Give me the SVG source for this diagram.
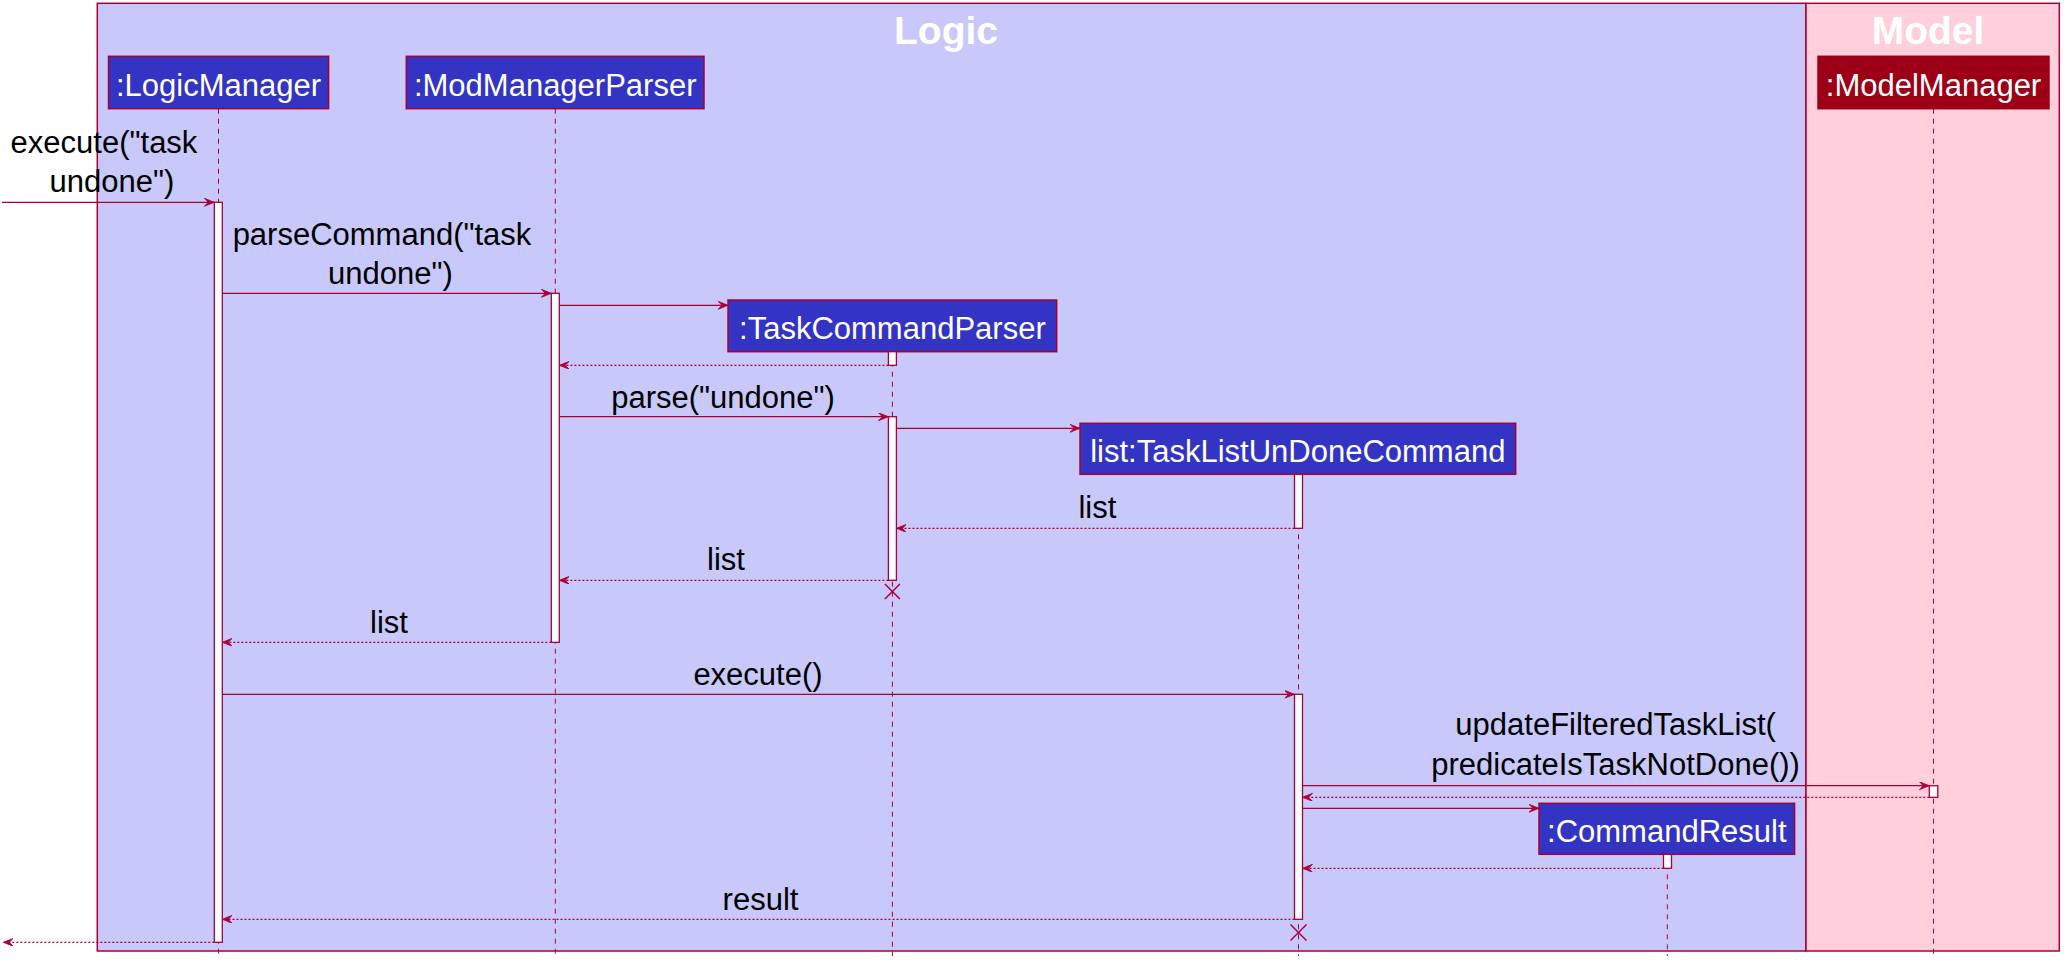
<svg xmlns="http://www.w3.org/2000/svg" width="2067" height="965" viewBox="0 0 2067 965">
<style>
.frame{stroke:#A80036;stroke-width:1.5}
.title{font-family:"Liberation Sans",Arial,sans-serif;font-size:39px;font-weight:bold;fill:#FFFFFF;text-anchor:middle}
.pbox{fill:#3333C4;stroke:#A80036;stroke-width:1.5}
.mbox{fill:#9D0016;stroke:#9D0016;stroke-width:1.5}
.ptext{font-family:"Liberation Sans",Arial,sans-serif;font-size:31px;fill:#FFFFFF;text-anchor:middle}
.life{stroke:#A80036;stroke-width:1;stroke-dasharray:5,5;fill:none}
.act{fill:#FFFFFF;stroke:#A80036;stroke-width:1.3}
.msg{stroke:#A80036;stroke-width:1.2;fill:none;marker-end:url(#ah)}
.ret{stroke:#A80036;stroke-width:1.2;fill:none;stroke-dasharray:2,2;marker-end:url(#ah)}
.mtext{font-family:"Liberation Sans",Arial,sans-serif;font-size:31px;fill:#000000;text-anchor:middle}
.x{stroke:#A80036;stroke-width:1.5}
</style>
<defs>
<marker id="ah" markerUnits="userSpaceOnUse" markerWidth="11" markerHeight="9" refX="10" refY="4" orient="auto">
<polygon points="0,0 10,4 0,8 4,4" fill="#A80036" stroke="#A80036" stroke-width="0.8"/>
</marker>
</defs>

<g id="box-logic">
<rect class="frame" x="97.3" y="3.3" width="1708.7" height="947.7" fill="#C8C8FA"/>
<text class="title" x="946" y="44.3">Logic</text>
</g>
<g id="box-model">
<rect class="frame" x="1806" y="3.3" width="253.3" height="947.7" fill="#FFD0DC"/>
<text class="title" x="1928" y="44.3">Model</text>
</g>

<g id="lifelines">
<line class="life" x1="218.5" y1="108.7" x2="218.5" y2="956"/>
<line class="life" x1="555.3" y1="108.7" x2="555.3" y2="956"/>
<line class="life" x1="892.4" y1="351.7" x2="892.4" y2="956"/>
<line class="life" x1="1298.5" y1="474.3" x2="1298.5" y2="956"/>
<line class="life" x1="1667.3" y1="854.3" x2="1667.3" y2="956"/>
<line class="life" x1="1933.5" y1="108.7" x2="1933.5" y2="956"/>
</g>

<g id="LogicManager">
<rect class="pbox" x="108.5" y="56.3" width="220.1" height="52.4"/>
<text class="ptext" x="218.5" y="95.7">:LogicManager</text>
</g>
<g id="ModManagerParser">
<rect class="pbox" x="406.3" y="56.3" width="297.7" height="52.4"/>
<text class="ptext" x="555.2" y="95.7">:ModManagerParser</text>
</g>
<g id="TaskCommandParser">
<rect class="pbox" x="728" y="300" width="328.7" height="51.7"/>
<text class="ptext" x="892.4" y="339.3">:TaskCommandParser</text>
</g>
<g id="TaskListUnDoneCommand">
<rect class="pbox" x="1080" y="423.3" width="435.7" height="51"/>
<text class="ptext" x="1297.8" y="461.7">list:TaskListUnDoneCommand</text>
</g>
<g id="CommandResult">
<rect class="pbox" x="1539" y="803.3" width="255.6" height="51"/>
<text class="ptext" x="1666.8" y="841.7">:CommandResult</text>
</g>
<g id="ModelManager">
<rect class="mbox" x="1818" y="56.3" width="231" height="52.4"/>
<text class="ptext" x="1933.5" y="95.7">:ModelManager</text>
</g>

<g id="activations">
<rect class="act" x="214.3" y="202.3" width="8" height="740"/>
<rect class="act" x="551.3" y="293.3" width="8" height="349"/>
<rect class="act" x="888.4" y="351.7" width="8" height="13.6"/>
<rect class="act" x="888.4" y="416.7" width="8" height="163.6"/>
<rect class="act" x="1294.5" y="474.3" width="8" height="54"/>
<rect class="act" x="1294.5" y="694.3" width="8" height="225"/>
<rect class="act" x="1929.3" y="785.7" width="8.5" height="11.6"/>
<rect class="act" x="1663.5" y="854.3" width="8" height="14"/>
</g>

<g id="connectors">
<line class="msg" x1="2" y1="202.3" x2="214.3" y2="202.3"/>
<text class="mtext" x="104" y="152.7">execute("task</text>
<text class="mtext" x="112" y="192.3">undone")</text>

<line class="msg" x1="222.3" y1="293.3" x2="551.3" y2="293.3"/>
<text class="mtext" x="382" y="245">parseCommand("task</text>
<text class="mtext" x="390.5" y="284.3">undone")</text>

<line class="msg" x1="559.3" y1="305.3" x2="728" y2="305.3"/>
<line class="ret" x1="888.4" y1="365.3" x2="559.3" y2="365.3"/>

<line class="msg" x1="559.3" y1="416.7" x2="888.4" y2="416.7"/>
<text class="mtext" x="723" y="407.7">parse("undone")</text>

<line class="msg" x1="896.4" y1="428.3" x2="1080" y2="428.3"/>

<line class="ret" x1="1294.5" y1="528.3" x2="896.4" y2="528.3"/>
<text class="mtext" x="1097.4" y="518.3">list</text>

<line class="ret" x1="888.4" y1="580.3" x2="559.3" y2="580.3"/>
<text class="mtext" x="726" y="570">list</text>

<line class="x" x1="884.9" y1="584" x2="899.9" y2="599"/>
<line class="x" x1="899.9" y1="584" x2="884.9" y2="599"/>

<line class="ret" x1="551.3" y1="642.3" x2="222.3" y2="642.3"/>
<text class="mtext" x="389" y="633.3">list</text>

<line class="msg" x1="222.3" y1="694.3" x2="1294.5" y2="694.3"/>
<text class="mtext" x="758" y="685">execute()</text>

<line class="msg" x1="1302.5" y1="785.7" x2="1929.3" y2="785.7"/>
<text class="mtext" x="1615.6" y="735">updateFilteredTaskList(</text>
<text class="mtext" x="1615.6" y="775">predicateIsTaskNotDone())</text>

<line class="ret" x1="1929.3" y1="797.3" x2="1302.5" y2="797.3"/>

<line class="msg" x1="1302.5" y1="808.3" x2="1539" y2="808.3"/>

<line class="ret" x1="1663.5" y1="868.3" x2="1302.5" y2="868.3"/>

<line class="ret" x1="1294.5" y1="919.3" x2="222.3" y2="919.3"/>
<text class="mtext" x="760.5" y="910">result</text>

<line class="x" x1="1290.5" y1="924.5" x2="1306.5" y2="940.5"/>
<line class="x" x1="1306.5" y1="924.5" x2="1290.5" y2="940.5"/>

<line class="ret" x1="214.3" y1="942.3" x2="3.3" y2="942.3"/>
</g>
</svg>
